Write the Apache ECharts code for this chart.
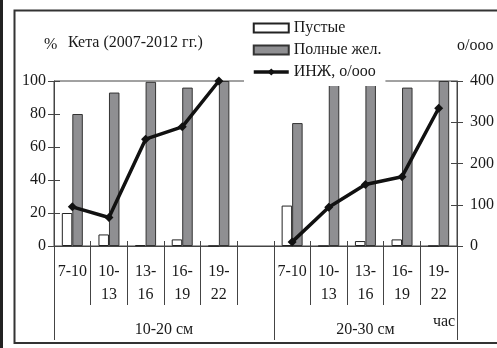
<!DOCTYPE html>
<html>
<head>
<meta charset="utf-8">
<script src="https://cdn.jsdelivr.net/npm/echarts@6/dist/echarts.min.js"></script>
<style>
html,body{margin:0;padding:0;background:#fff;}
#chart{width:497px;height:348px;}
</style>
</head>
<body>
<div id="chart"></div>
<script>
// ---- data ----
const hourLabels = ['7-10', '10-\n13', '13-\n16', '16-\n19', '19-\n22'];
const depthGroups = ['10-20 см', '20-30 см'];
const seriesNames = ['Пустые', 'Полные жел.', 'ИНЖ, о/ооо'];
// % empty stomachs
const emptyPct10_20 = [20, 7, 0.5, 4, 0];
const emptyPct20_30 = [24.5, 0, 3, 4, 0];
// % full stomachs
const fullPct10_20 = [80, 93, 99.5, 96, 100];
const fullPct20_30 = [74.5, 99, 99, 96, 100];
// index of stomach fullness, o/ooo
const inzh10_20 = [95, 69, 259, 289, 400];
const inzh20_30 = [10, 94, 149, 168, 334];
const leftTicks = {min: 0, max: 100, interval: 20};
const rightTicks = {min: 0, max: 400, interval: 100};

// ---- build ----
const categories = [...hourLabels, '', ...hourLabels];
const catIdx = categories.map((c, i) => String(i));
const join = (a, b) => [...a, null, ...b];

const FONT = 'Liberation Serif';
const TXT = '#1a1a1a';
const AX = '#444';
const txt = (size) => ({fontFamily: FONT, fontSize: size, color: TXT, fontWeight: 'normal'});

const chart = echarts.init(document.getElementById('chart'), null, {renderer: 'canvas'});
chart.setOption({
  animation: false,
  backgroundColor: '#fff',
  title: [
    {text: '%', left: 44, top: 37, padding: 0, textStyle: txt(16)},
    {text: 'Кета (2007-2012 гг.)', left: 68, top: 35, padding: 0, textStyle: txt(16)},
    {text: 'о/ооо', left: 457, top: 38, padding: 0, textStyle: txt(16)}
  ],
  legend: {
    orient: 'vertical',
    left: 244, top: 13,
    padding: [6, 4, 5, 8],
    backgroundColor: '#fff',
    itemWidth: 35, itemHeight: 9, itemGap: 4,
    textStyle: Object.assign(txt(16), {lineHeight: 18}),
    data: [
      {name: seriesNames[0], icon: 'rect'},
      {name: seriesNames[1], icon: 'rect'},
      {name: seriesNames[2], lineStyle: {width: 3.5, color: '#111'}, itemStyle: {color: '#111'}}
    ]
  },
  grid: {left: 54, right: 35, top: 81, bottom: 102, show: true, borderColor: AX, borderWidth: 1, backgroundColor: 'transparent'},
  xAxis: [
    {
      type: 'category', data: catIdx, position: 'bottom',
      axisLine: {show: true, lineStyle: {color: AX, width: 1}},
      axisTick: {show: true, interval: 0, length: 59, lineStyle: {color: AX, width: 1}},
      axisLabel: Object.assign(txt(16), {interval: 0, margin: 14, lineHeight: 23,
        formatter: (v, i) => categories[i]}),
      splitLine: {show: false}
    },
    {
      type: 'category', data: catIdx, position: 'bottom',
      axisLine: {show: false},
      axisTick: {show: true, interval: 0, inside: true, length: 5, lineStyle: {color: AX, width: 1}},
      axisLabel: {show: false},
      splitLine: {show: false}
    },
    {
      type: 'value', min: 0, max: 11, position: 'bottom',
      axisLine: {show: false},
      axisTick: {show: true, customValues: [0, 6, 11], length: 94, lineStyle: {color: AX, width: 1}},
      axisLabel: Object.assign(txt(16), {customValues: [3, 8.5], margin: 76,
        formatter: (v) => (v < 5 ? depthGroups[0] : depthGroups[1])}),
      splitLine: {show: false}
    }
  ],
  yAxis: [
    Object.assign({type: 'value', position: 'left',
      axisLine: {show: true, lineStyle: {color: AX, width: 1}},
      axisTick: {show: true, length: 6, lineStyle: {color: AX, width: 1}},
      axisLabel: Object.assign(txt(16), {margin: 8}),
      splitLine: {show: false}}, leftTicks),
    Object.assign({type: 'value', position: 'left',
      axisLine: {show: false},
      axisTick: {show: true, inside: true, length: 6, lineStyle: {color: AX, width: 1}},
      axisLabel: {show: false},
      splitLine: {show: false}}, leftTicks),
    Object.assign({type: 'value', position: 'right',
      axisLine: {show: true, lineStyle: {color: AX, width: 1}},
      axisTick: {show: true, length: 6, lineStyle: {color: AX, width: 1}},
      axisLabel: Object.assign(txt(16), {margin: 13}),
      splitLine: {show: false}}, rightTicks),
    Object.assign({type: 'value', position: 'right',
      axisLine: {show: false},
      axisTick: {show: true, inside: true, length: 6, lineStyle: {color: AX, width: 1}},
      axisLabel: {show: false},
      splitLine: {show: false}}, rightTicks)
  ],
  series: [
    {
      name: seriesNames[0], type: 'bar', xAxisIndex: 0, yAxisIndex: 0,
      barWidth: 10.5, barGap: '0%',
      itemStyle: {color: '#fff', borderColor: '#222', borderWidth: 1},
      data: join(emptyPct10_20, emptyPct20_30)
    },
    {
      name: seriesNames[1], type: 'bar', xAxisIndex: 0, yAxisIndex: 0,
      barWidth: 10.5, barGap: '0%',
      itemStyle: {color: '#8f8f92', borderColor: '#333', borderWidth: 1},
      data: join(fullPct10_20, fullPct20_30)
    },
    {
      name: seriesNames[2], type: 'line', xAxisIndex: 0, yAxisIndex: 2,
      symbol: 'diamond', symbolSize: 9, z: 5,
      lineStyle: {color: '#111', width: 3.5},
      itemStyle: {color: '#111'},
      data: join(inzh10_20, inzh20_30)
    }
  ],
  graphic: [
    {type: 'rect', shape: {x: 0, y: 0, width: 3, height: 348}, style: {fill: '#222'}, silent: true},
    {type: 'rect', shape: {x: 14.5, y: 10.5, width: 500, height: 332.5}, style: {fill: 'none', stroke: '#333', lineWidth: 2}, silent: true, z: 0},
    {type: 'text', x: 444, y: 322, style: {text: 'час', font: '16px "Liberation Serif"', fill: TXT, align: 'center', verticalAlign: 'middle'}, silent: true}
  ]
});
</script>
</body>
</html>
